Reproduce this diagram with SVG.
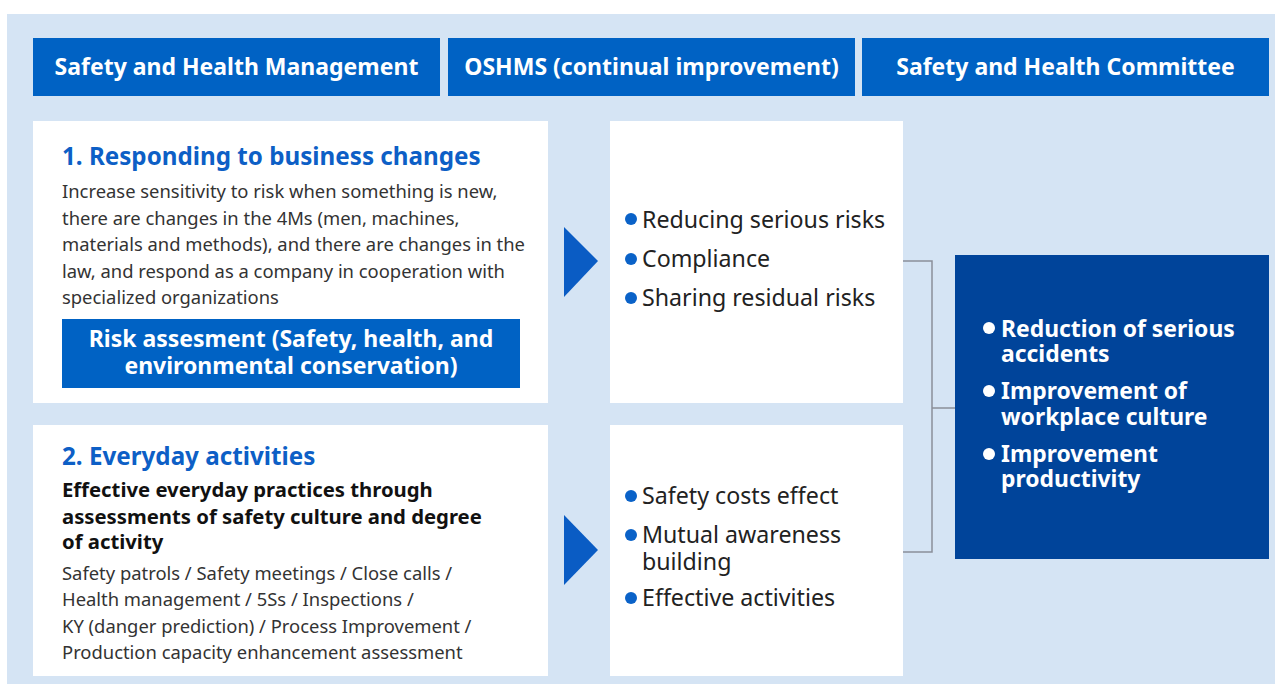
<svg xmlns="http://www.w3.org/2000/svg" width="1275" height="684" viewBox="0 0 1275 684">
<style>
.hdr{fill:#0062c4}
.hdrt{font-family:"Noto Sans","Open Sans",sans-serif;font-weight:bold;font-size:23px;fill:#fff;text-anchor:middle}
.card{fill:#fff}
.title{font-family:"Noto Sans","Open Sans",sans-serif;font-weight:bold;font-size:24.2px;fill:#0d5fc6}
.body{font-family:"Noto Sans","Open Sans",sans-serif;font-size:18.4px;fill:#333}
.bold{font-family:"Noto Sans","Open Sans",sans-serif;font-weight:bold;font-size:20.3px;fill:#111}
.risk{font-family:"Noto Sans","Open Sans",sans-serif;font-weight:bold;font-size:23px;fill:#fff;text-anchor:middle}
.item{font-family:"Noto Sans","Open Sans",sans-serif;font-size:23.2px;fill:#222}
.dot{fill:#0a62c8}
.res{font-family:"Noto Sans","Open Sans",sans-serif;font-weight:bold;font-size:22.9px;fill:#fff}
.arrow{fill:#0a5cc4}
.conn{fill:none;stroke:#8a8f99;stroke-width:1.5}
</style>
<rect x="0" y="0" width="1275" height="684" fill="#fff"/>
<rect x="7" y="14" width="1268" height="670" fill="#d5e4f4"/>

<g id="header-management">
<rect class="hdr" x="33" y="38" width="407" height="58"/>
<text class="hdrt" x="236.5" y="75">Safety and Health Management</text>
</g>
<g id="header-oshms">
<rect class="hdr" x="448" y="38" width="407" height="58"/>
<text class="hdrt" x="651.5" y="75">OSHMS (continual improvement)</text>
</g>
<g id="header-committee">
<rect class="hdr" x="862" y="38" width="407" height="58"/>
<text class="hdrt" x="1065.5" y="75">Safety and Health Committee</text>
</g>

<g id="card-business-changes">
<rect class="card" x="33" y="121" width="515" height="282"/>
<text class="title" x="62" y="165">1. Responding to business changes</text>
<text class="body" x="62" y="198">Increase sensitivity to risk when something is new,</text>
<text class="body" x="62" y="224.5">there are changes in the 4Ms (men, machines,</text>
<text class="body" x="62" y="251">materials and methods), and there are changes in the</text>
<text class="body" x="62" y="277.5">law, and respond as a company in cooperation with</text>
<text class="body" x="62" y="303.5">specialized organizations</text>
<rect class="hdr" x="62" y="319" width="458" height="69"/>
<text class="risk" x="291" y="347">Risk assesment (Safety, health, and<tspan x="291" y="374">environmental conservation)</tspan></text>
</g>

<g id="card-everyday">
<rect class="card" x="33" y="425" width="515" height="251"/>
<text class="title" x="62" y="465">2. Everyday activities</text>
<text class="bold" x="62" y="497">Effective everyday practices through</text>
<text class="bold" x="62" y="523.5">assessments of safety culture and degree</text>
<text class="bold" x="62" y="548.5">of activity</text>
<text class="body" x="62" y="579.5">Safety patrols / Safety meetings / Close calls /</text>
<text class="body" x="62" y="606">Health management / 5Ss / Inspections /</text>
<text class="body" x="62" y="632.5">KY (danger prediction) / Process Improvement /</text>
<text class="body" x="62" y="658.5">Production capacity enhancement assessment</text>
</g>

<g id="arrow-1"><polygon class="arrow" points="564,227 598,261 564,297"/></g>
<g id="arrow-2"><polygon class="arrow" points="564,515 598,550 564,585"/></g>

<g id="card-risks">
<rect class="card" x="610" y="121" width="293" height="282"/>
<circle class="dot" cx="631" cy="219" r="6"/>
<text class="item" x="642" y="228">Reducing serious risks</text>
<circle class="dot" cx="631" cy="259" r="6"/>
<text class="item" x="642" y="267">Compliance</text>
<circle class="dot" cx="631" cy="298" r="6"/>
<text class="item" x="642" y="306">Sharing residual risks</text>
</g>

<g id="card-effects">
<rect class="card" x="610" y="425" width="293" height="251"/>
<circle class="dot" cx="631" cy="496" r="6"/>
<text class="item" x="642" y="504">Safety costs effect</text>
<circle class="dot" cx="631" cy="535" r="6"/>
<text class="item" x="642" y="543">Mutual awareness<tspan x="642" y="570">building</tspan></text>
<circle class="dot" cx="631" cy="598" r="6"/>
<text class="item" x="642" y="606">Effective activities</text>
</g>

<g id="connectors">
<polyline class="conn" points="903,261 932,261 932,552 903,552"/>
<line class="conn" x1="932" y1="408" x2="955" y2="408"/>
</g>

<g id="result-box">
<rect x="955" y="255" width="314" height="304" fill="#00449a"/>
<circle cx="989" cy="328" r="6" fill="#fff"/>
<circle cx="989" cy="391" r="6" fill="#fff"/>
<circle cx="989" cy="454" r="6" fill="#fff"/>
<text class="res" x="1001" y="337">Reduction of serious<tspan x="1001" y="362">accidents</tspan><tspan x="1001" y="399">Improvement of</tspan><tspan x="1001" y="425">workplace culture</tspan><tspan x="1001" y="462">Improvement</tspan><tspan x="1001" y="487">productivity</tspan></text>
</g>
</svg>
